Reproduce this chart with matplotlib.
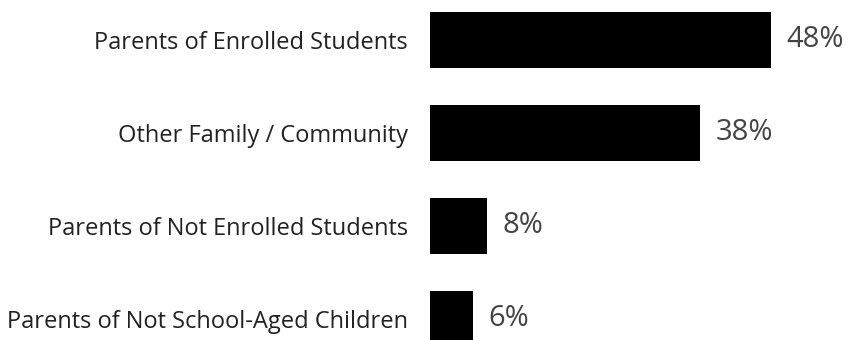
import matplotlib.pyplot as plt

# Survey respondent groups and their shares
groups = [
    "Parents of Enrolled Students",
    "Other Family / Community",
    "Parents of Not Enrolled Students",
    "Parents of Not School-Aged Children",
]
shares = [48, 38, 8, 6]

plt.rcParams['font.family'] = ['Open Sans', 'DejaVu Sans']

fig = plt.figure(figsize=(8.47, 3.4), dpi=100)
ax = fig.add_axes([430 / 847, 0, 1 - 430 / 847, 1])

pos = list(range(len(groups)))
ax.barh(pos, shares, height=0.6, color='black')

for y, v in zip(pos, shares):
    ax.text(v + 2.2, y, f"{v}%", va='center', ha='left',
            fontsize=21, color='#444444')

ax.set_xlim(0, 58.7)
ax.set_ylim(3.226, -0.43)
ax.set_yticks(pos)
ax.set_yticklabels(groups, fontsize=17, color='#222222')
ax.tick_params(axis='y', length=0, pad=16)
ax.set_xticks([])
for s in ax.spines.values():
    s.set_visible(False)

fig.savefig('out.png', dpi=100)
